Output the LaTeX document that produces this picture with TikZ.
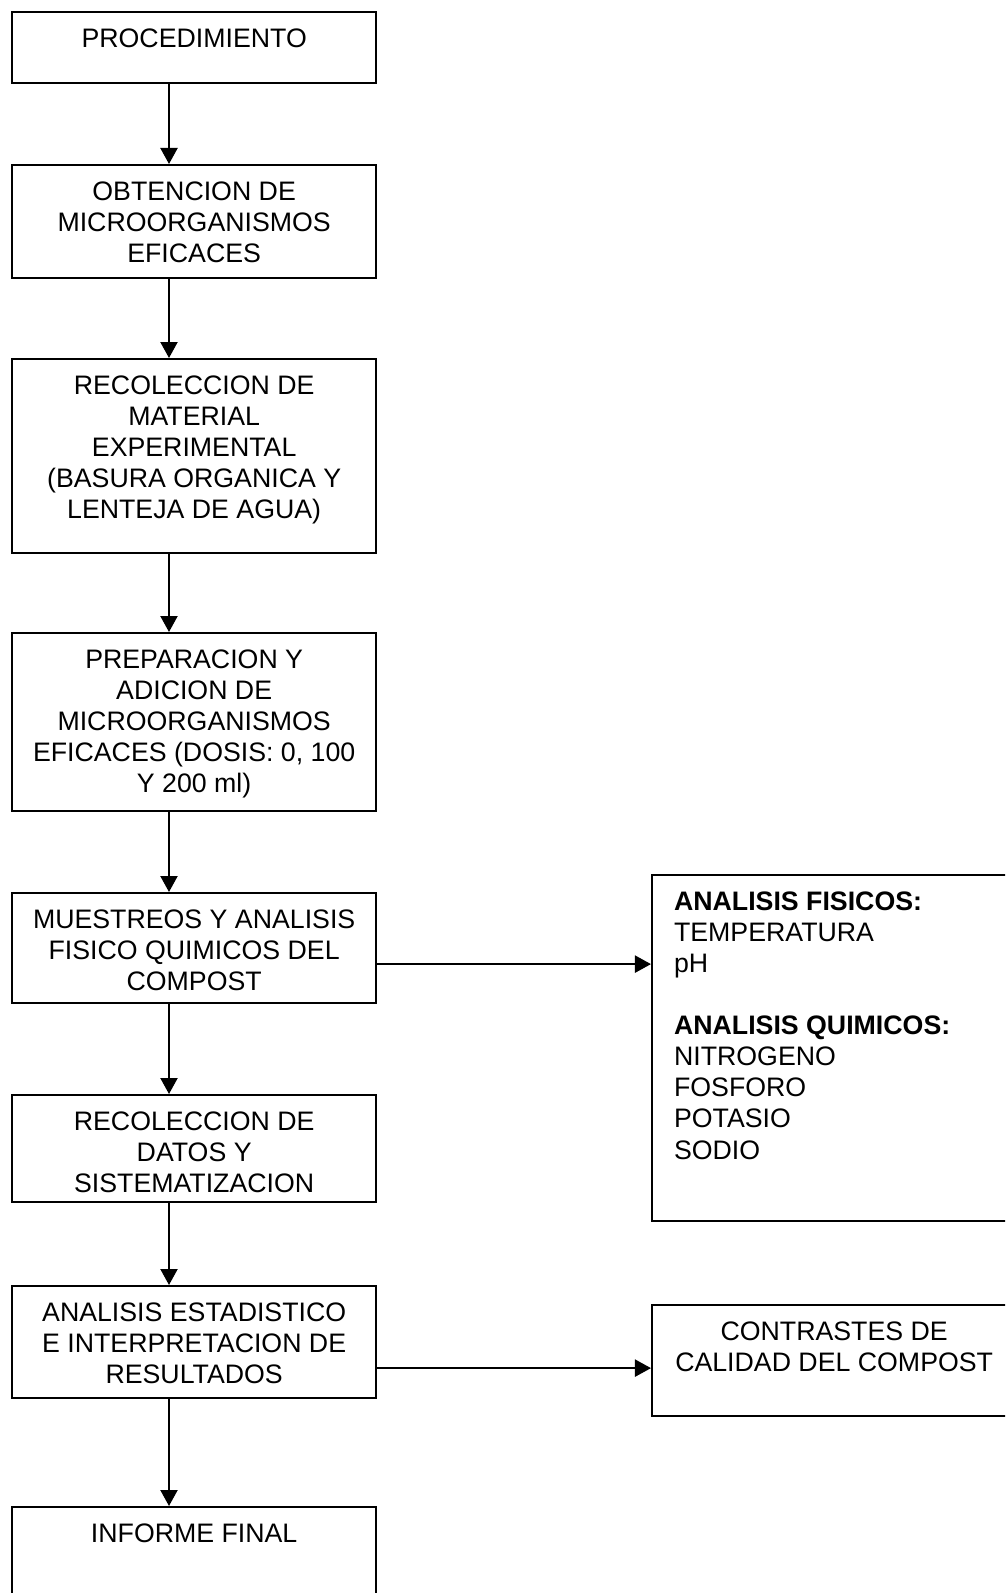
\documentclass[tikz,border=0pt]{standalone}
\usepackage{fontspec}
\setmainfont{Liberation Sans}
\usetikzlibrary{arrows.meta}

%Box text: height, text (top aligned)
\newcommand{\cajatexto}[2]{\parbox[c][#1][t]{3.64cm}{\centering\rule{0pt}{0.35cm}#2}}
\newcommand{\cajalista}[2]{\parbox[c][#1][t]{3.64cm}{\raggedright\leftskip=0.22cm\rule{0pt}{0.35cm}#2}}

\begin{document}
\begin{tikzpicture}
[x=0.01cm,y=-0.01cm,>={Triangle[length=1.6mm,width=1.7mm]},
font=\fontsize{7.6pt}{8.85pt}\selectfont,
caja/.style={draw,line width=0.6pt,inner sep=0pt,anchor=north west},
flecha/.style={->,line width=0.6pt},]

%Page
\useasboundingbox (0,0) rectangle (1005,1593);
\clip (0,0) rectangle (1005,1593);

%Column of the down arrows
\coordinate (ax) at (169,0);

%Main column
\node (p1) at (11,11)[caja] {\cajatexto{0.71cm}{PROCEDIMIENTO}};
\node (p2) at (11,164)[caja] {\cajatexto{1.13cm}{OBTENCION DE\\MICROORGANISMOS\\EFICACES}};
\node (p3) at (11,358)[caja] {\cajatexto{1.94cm}{RECOLECCION DE\\MATERIAL\\EXPERIMENTAL\\(BASURA ORGANICA Y\\LENTEJA DE AGUA)}};
\node (p4) at (11,632)[caja] {\cajatexto{1.78cm}{PREPARACION Y\\ADICION DE\\MICROORGANISMOS\\EFICACES (DOSIS: 0, 100\\Y 200 ml)}};
\node (p5) at (11,892)[caja] {\cajatexto{1.10cm}{MUESTREOS Y ANALISIS\\FISICO QUIMICOS DEL\\COMPOST}};
\node (p6) at (11,1094)[caja] {\cajatexto{1.07cm}{RECOLECCION DE\\DATOS Y\\SISTEMATIZACION}};
\node (p7) at (11,1285)[caja] {\cajatexto{1.12cm}{ANALISIS ESTADISTICO\\E INTERPRETACION DE\\RESULTADOS}};
\node (p8) at (11,1506)[caja] {\cajatexto{1.20cm}{INFORME FINAL}};

%Side boxes
\node (pA) at (651,874)[caja] {\cajalista{3.46cm}{\textbf{ANALISIS FISICOS:}\\TEMPERATURA\\pH\\[8.85pt]\textbf{ANALISIS QUIMICOS:}\\NITROGENO\\FOSFORO\\POTASIO\\SODIO}};
\node (pB) at (651,1304)[caja] {\cajatexto{1.11cm}{CONTRASTES DE\\CALIDAD DEL COMPOST}};

%Down arrows
\foreach \a/\b in {p1/p2,p2/p3,p3/p4,p4/p5,p5/p6,p6/p7,p7/p8}
  \draw[flecha] (\a.south -| ax) -- (\b.north -| ax);

%Side arrows
\draw[flecha] ([yshift=-0.16cm]p5.east) -- ([yshift=-0.16cm]p5.east -| pA.west);
\draw[flecha] ([yshift=-0.26cm]p7.east) -- ([yshift=-0.26cm]p7.east -| pB.west);

\end{tikzpicture}
\end{document}
